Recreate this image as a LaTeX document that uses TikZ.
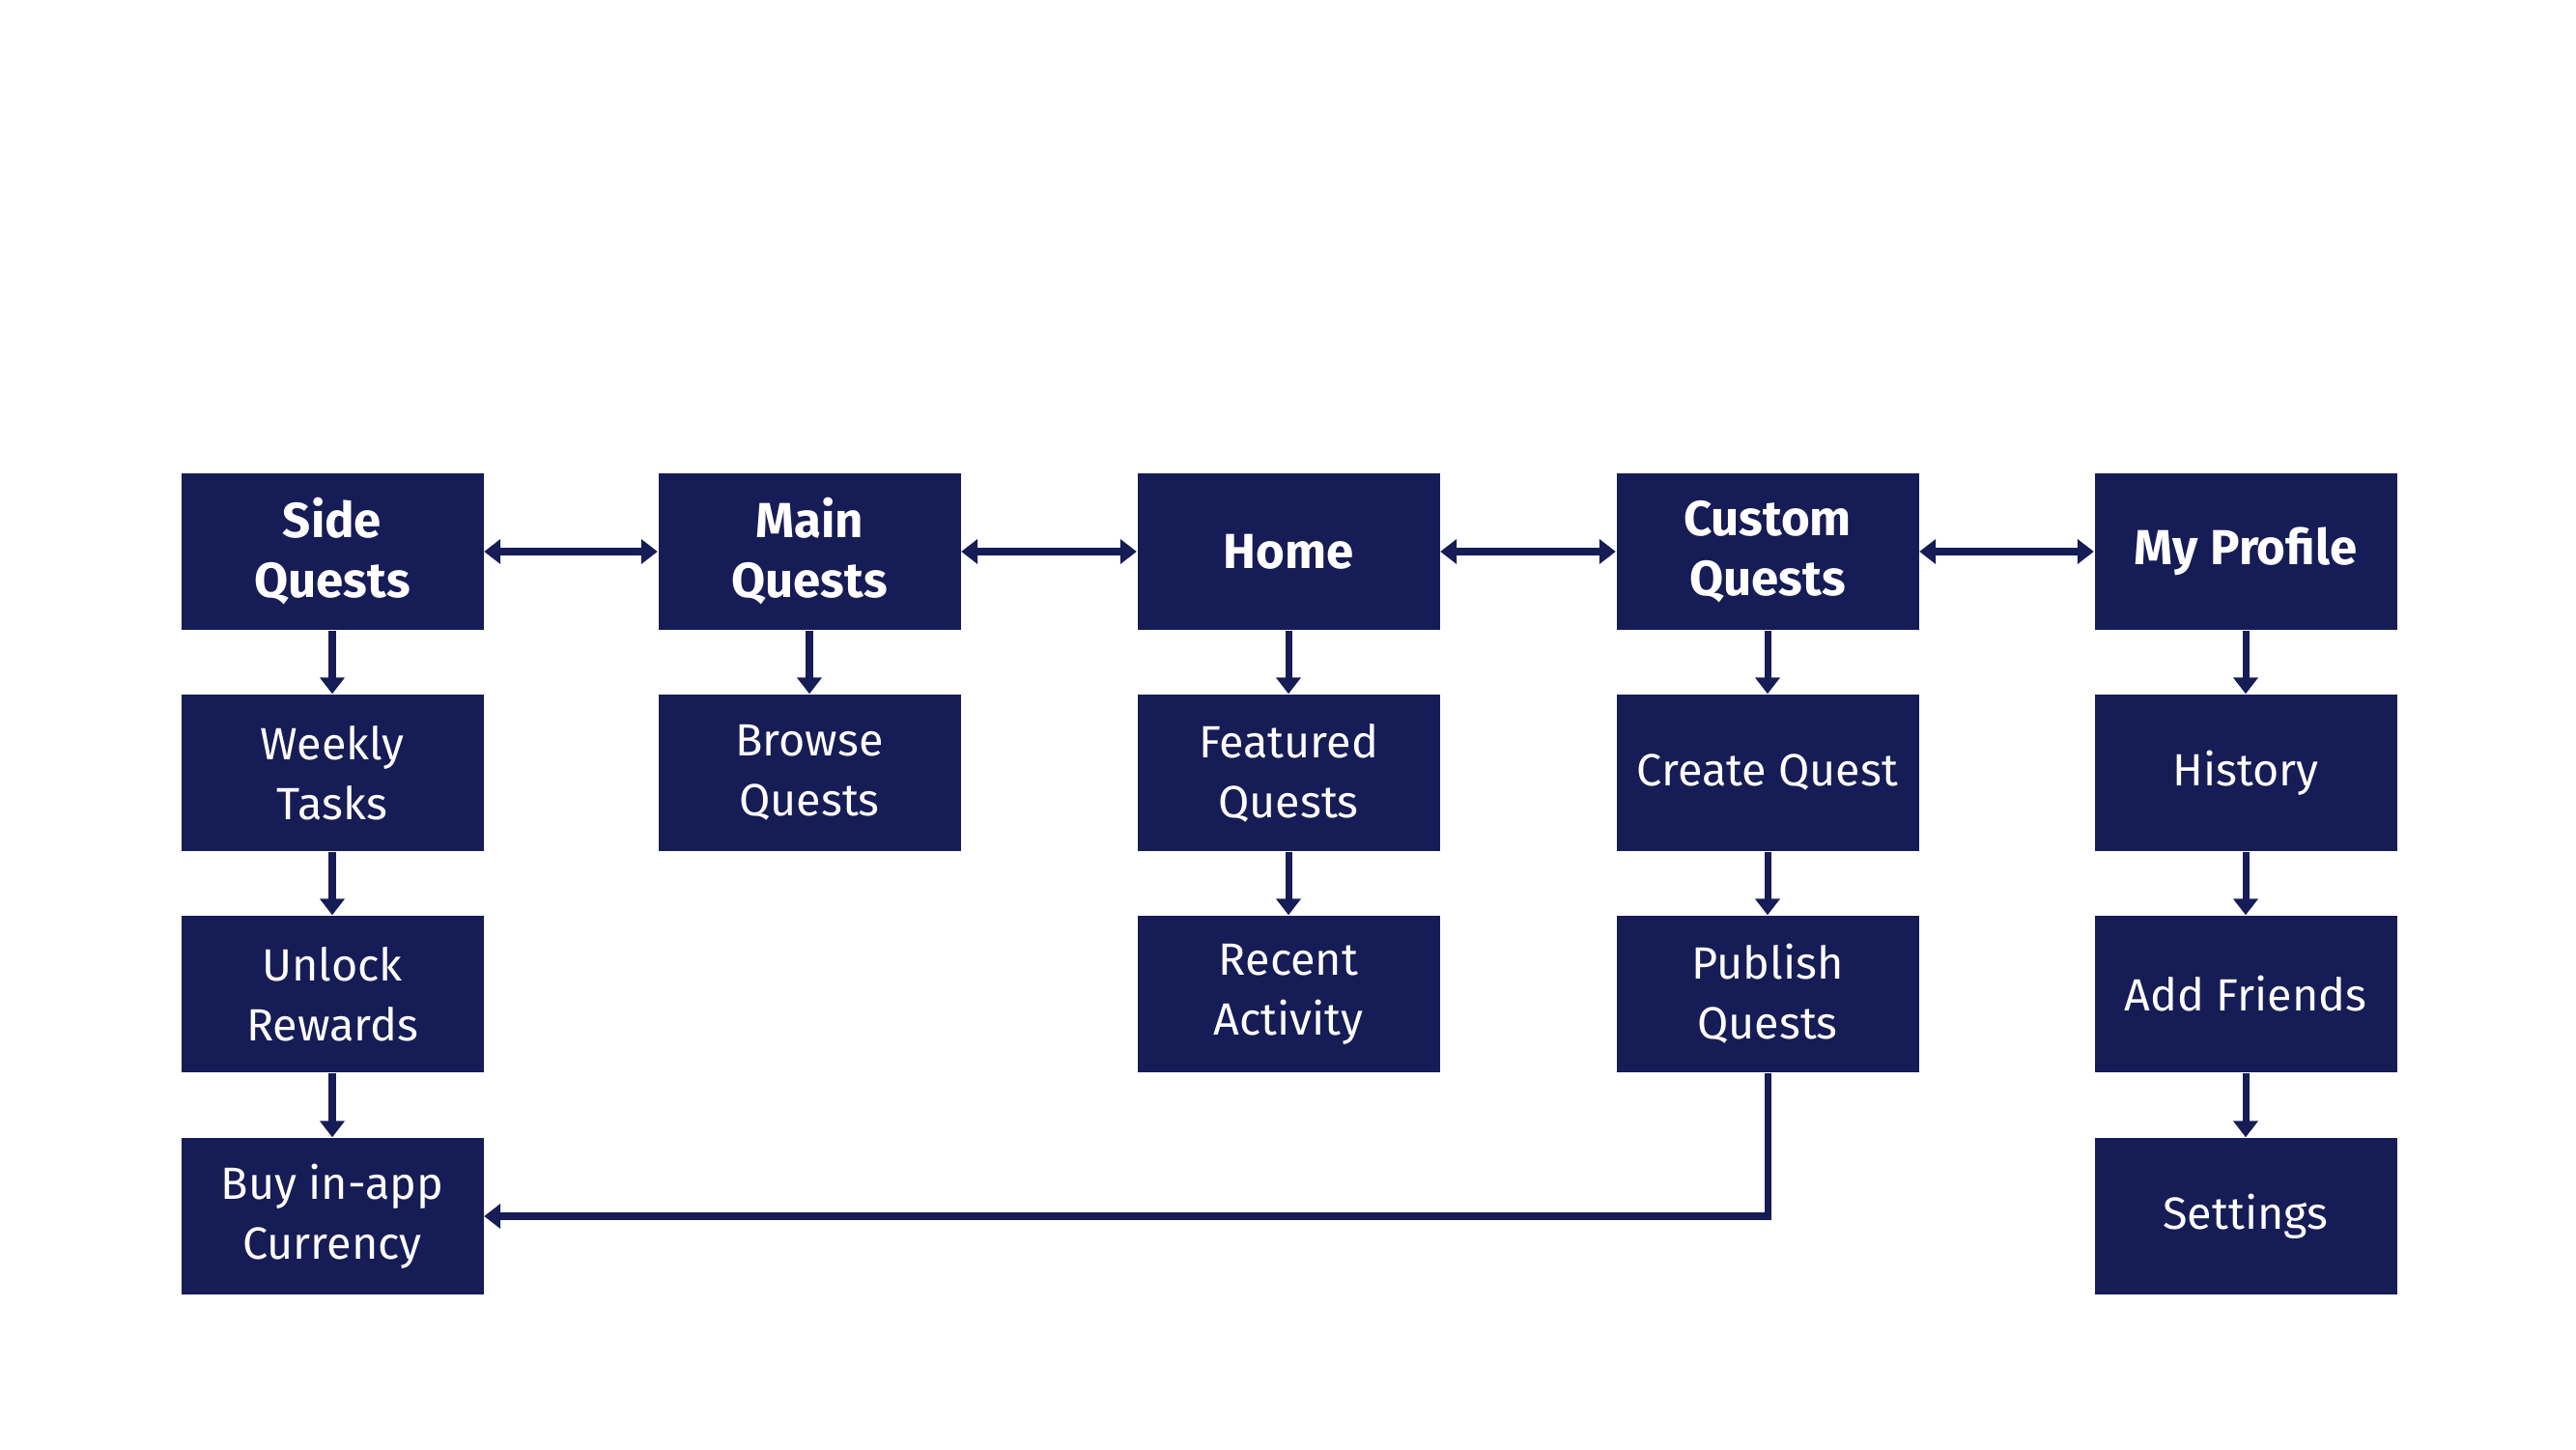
\documentclass[tikz,border=0pt]{standalone}
\usepackage{fontspec}
\setmainfont{Fira Sans}
\usetikzlibrary{arrows.meta}
\definecolor{navy}{HTML}{161C55}
\tikzset{
  box/.style={fill=navy, draw=none, minimum width=3.13cm, minimum height=1.62cm, inner sep=0pt, align=center, text=white},
  head/.style={box, font=\bfseries\fontsize{14.5}{17.6}\selectfont},
  sub/.style={box, font=\fontsize{13.3}{17.6}\selectfont},
  conn/.style={draw=navy, line width=2pt, -{Triangle[width=0.25cm,length=0.17cm]}},
  dconn/.style={draw=navy, line width=2pt, {Triangle[width=0.25cm,length=0.17cm]}-{Triangle[width=0.25cm,length=0.17cm]}}
}
\begin{document}
\begin{tikzpicture}
\useasboundingbox (0,0) rectangle (26.67,15);
% row 1
\node[head] (side) at (3.44,9.29) {Side\\Quests};
\node[head] (main) at (8.38,9.29) {Main\\Quests};
\node[head] (home) at (13.34,9.29) {Home};
\node[head] (custom) at (18.30,9.29) {Custom\\Quests};
\node[head] (profile) at (23.25,9.29) {My Profile};
% row 2
\node[sub] (weekly) at (3.44,7.00) {Weekly\\Tasks};
\node[sub] (browse) at (8.38,7.00) {Browse\\Quests};
\node[sub] (featured) at (13.34,7.00) {Featured\\Quests};
\node[sub] (create) at (18.30,7.00) {Create Quest};
\node[sub] (history) at (23.25,7.00) {History};
% row 3
\node[sub] (unlock) at (3.44,4.71) {Unlock\\Rewards};
\node[sub] (recent) at (13.34,4.71) {Recent\\Activity};
\node[sub] (publish) at (18.30,4.71) {Publish\\Quests};
\node[sub] (friends) at (23.25,4.71) {Add Friends};
% row 4
\node[sub] (buy) at (3.44,2.41) {Buy in-app\\Currency};
\node[sub] (settings) at (23.25,2.41) {Settings};
% horizontal links
\draw[dconn] (side.east) -- (main.west);
\draw[dconn] (main.east) -- (home.west);
\draw[dconn] (home.east) -- (custom.west);
\draw[dconn] (custom.east) -- (profile.west);
% vertical links
\draw[conn] (side.south) -- (weekly.north);
\draw[conn] (weekly.south) -- (unlock.north);
\draw[conn] (unlock.south) -- (buy.north);
\draw[conn] (main.south) -- (browse.north);
\draw[conn] (home.south) -- (featured.north);
\draw[conn] (featured.south) -- (recent.north);
\draw[conn] (custom.south) -- (create.north);
\draw[conn] (create.south) -- (publish.north);
\draw[conn] (profile.south) -- (history.north);
\draw[conn] (history.south) -- (friends.north);
\draw[conn] (friends.south) -- (settings.north);
\draw[conn] (publish.south) |- (buy.east);
\end{tikzpicture}
\end{document}
